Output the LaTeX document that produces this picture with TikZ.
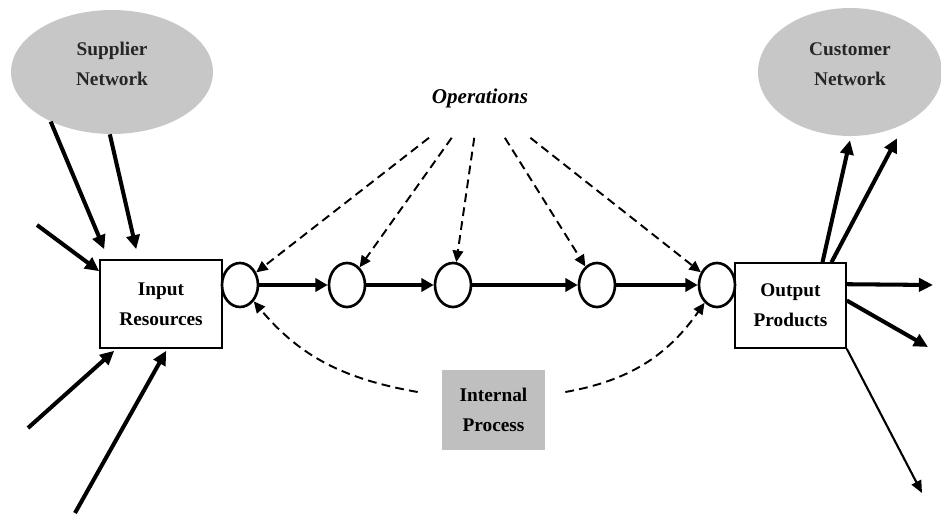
\documentclass[tikz,border=0pt]{standalone}
\usepackage{fontspec}
\setmainfont{Liberation Serif}
\usetikzlibrary{arrows.meta,shapes.geometric,calc}
\colorlet{NetworkFill}{black!22}
\colorlet{ProcessFill}{black!25}

\begin{document}
\begin{tikzpicture}[x=0.02cm, y=-0.02cm,
  every node/.style={font=\fontsize{11}{17}\selectfont\bfseries, align=center},
  netnode/.style={ellipse, fill=NetworkFill, inner sep=0pt, text=black!85, text depth=9pt},
  resbox/.style={draw, line width=0.9pt, fill=white},
  opcircle/.style={ellipse, draw, line width=1.5pt, inner sep=0pt,
    minimum width=0.72cm, minimum height=0.88cm},
  flow/.style={line width=2.6pt, -{Triangle[length=7pt,width=7.5pt]}},
  feed/.style={line width=2.3pt, -{Triangle[length=8pt,width=7.5pt]}},
  thinfeed/.style={line width=1.2pt, -{Triangle[length=7pt,width=6pt]}},
  dashflow/.style={line width=1.1pt, dash pattern=on 5pt off 3pt,
    -{Triangle[length=6.5pt,width=6pt]}}]

\useasboundingbox (0,0) rectangle (941,517);

% Redes de proveedores y clientes
\node[netnode, minimum width=4.04cm, minimum height=2.48cm] (sup) at (112,72) {Supplier\\Network};
\node[netnode, minimum width=3.68cm, minimum height=2.56cm] (cust) at (850,72) {Customer\\Network};

% Entradas y salidas
\node[resbox, minimum width=2.44cm, minimum height=1.76cm] (in) at (161,304) {Input\\Resources};
\node[resbox, minimum width=2.22cm, minimum height=1.7cm] (out) at (790.5,305.5) {Output\\Products};

% Operaciones
\foreach \x [count=\i] in {240,347,453,597,717}
  \node[opcircle] (c\i) at (\x,285) {};

\node[font=\fontsize{12}{14}\selectfont\bfseries\itshape, inner xsep=4pt, inner ysep=17pt] (ops) at (480,98) {Operations};
\node[fill=ProcessFill, minimum width=2.06cm, minimum height=1.6cm] (ip) at (493.5,410) {Internal\\Process};

\coordinate (l1) at (37,225);
\coordinate (l2) at (28,428);
\coordinate (l3) at (75,513);
\coordinate (r1) at (933,285);
\coordinate (r2) at (928,347);
\coordinate (r3) at (922,493);

% Flujo principal
\foreach \i/\j in {1/2,2/3,3/4,4/5}
  \draw[flow] (c\i) -- (c\j);

\foreach \i in {1,...,5}
  \draw[dashflow] (ops) -- (c\i);

\draw[dashflow] ($(ip.west)+(-24,-18)$) to[out=170, in=-50] (c1);
\draw[dashflow] ($(ip.east)+(20,-18)$) to[out=10, in=-125] (c5);

% Flechas de entrada
\draw[feed] (sup.219) -- ($(in.north west)+(5,-10)$);
\draw[feed] (sup.268) -- ($(in.north west)+(37,-10)$);
\draw[feed] (l1) -- ($(in.north west)+(0,12)$);
\draw[feed] (l2) -- ($(in.south west)+(15,2)$);
\draw[feed] (l3) -- ($(in.south west)+(67,2)$);

% Flechas de salida
\draw[feed] ($(out.north)+(32,0)$) -- ($(cust.south)+(0,4)$);
\draw[feed] ($(out.north)+(41,0)$) -- ($(cust.south)+(47,2)$);
\draw[feed] ($(out.north east)+(0,22)$) -- (r1);
\draw[feed] ($(out.east)+(0,-5)$) -- (r2);
\draw[thinfeed] (out.south east) -- (r3);

\end{tikzpicture}
\end{document}
